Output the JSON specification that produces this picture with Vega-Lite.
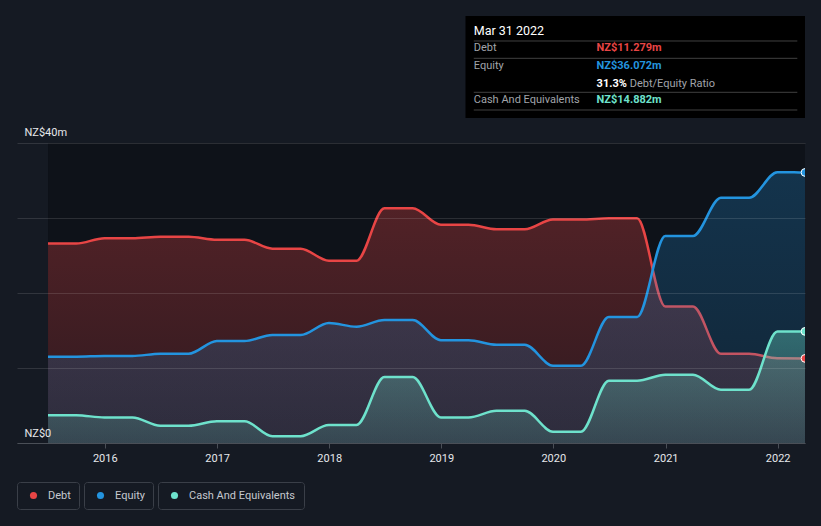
{
  "$schema": "https://vega.github.io/schema/vega-lite/v6.json",
  "width": 788,
  "height": 427,
  "autosize": {"type": "none"},
  "padding": {"left": 17, "top": 16, "right": 16, "bottom": 83},
  "background": "#151a23",
  "config": {
    "view": {"stroke": null},
    "font": "Roboto",
    "axisX": {"grid": false, "domainColor": "#4a4f57", "tickColor": "#4a4f57", "tickSize": 5, "labelColor": "#e6e8eb", "labelFontSize": 11, "labelPadding": 4},
    "axisY": {"grid": true, "gridColor": "#ffffff", "gridOpacity": 0.12, "domain": false, "ticks": false, "tickSize": 0, "labelAlign": "left", "labelBaseline": "alphabetic", "labelPadding": -7, "labelOffset": -7, "labelColor": "#e6e8eb", "labelFontSize": 11},
    "legend": {
      "orient": "none",
      "direction": "horizontal",
      "strokeColor": "#3a3f48",
      "fillColor": "#151a23",
      "padding": 8,
      "cornerRadius": 3,
      "symbolType": "circle",
      "symbolSize": 50,
      "symbolOffset": 3,
      "symbolStrokeWidth": 0,
      "labelOffset": 9,
      "labelColor": "#c5c9cf",
      "labelFontSize": 11,
      "labelFont": "Roboto"
    }
  },
  "datasets": {
    "main": [
      {"date": "2015-06-30", "debt": 26.6, "equity": 11.5, "cash": 3.7},
      {"date": "2015-09-30", "debt": 26.6, "equity": 11.5, "cash": 3.7},
      {"date": "2015-12-31", "debt": 27.3, "equity": 11.6, "cash": 3.4},
      {"date": "2016-03-31", "debt": 27.3, "equity": 11.6, "cash": 3.4},
      {"date": "2016-06-30", "debt": 27.5, "equity": 11.9, "cash": 2.3},
      {"date": "2016-09-30", "debt": 27.5, "equity": 11.9, "cash": 2.3},
      {"date": "2016-12-31", "debt": 27.1, "equity": 13.6, "cash": 2.9},
      {"date": "2017-03-31", "debt": 27.1, "equity": 13.6, "cash": 2.9},
      {"date": "2017-06-30", "debt": 25.9, "equity": 14.4, "cash": 0.9},
      {"date": "2017-09-30", "debt": 25.9, "equity": 14.4, "cash": 0.9},
      {"date": "2017-12-31", "debt": 24.3, "equity": 16.0, "cash": 2.4},
      {"date": "2018-03-31", "debt": 24.3, "equity": 15.5, "cash": 2.4},
      {"date": "2018-06-30", "debt": 31.3, "equity": 16.4, "cash": 8.8},
      {"date": "2018-09-30", "debt": 31.3, "equity": 16.4, "cash": 8.8},
      {"date": "2018-12-31", "debt": 29.1, "equity": 13.7, "cash": 3.4},
      {"date": "2019-03-31", "debt": 29.1, "equity": 13.7, "cash": 3.4},
      {"date": "2019-06-30", "debt": 28.5, "equity": 13.1, "cash": 4.3},
      {"date": "2019-09-30", "debt": 28.5, "equity": 13.1, "cash": 4.3},
      {"date": "2019-12-31", "debt": 29.8, "equity": 10.3, "cash": 1.5},
      {"date": "2020-03-31", "debt": 29.8, "equity": 10.3, "cash": 1.5},
      {"date": "2020-06-30", "debt": 29.95, "equity": 16.8, "cash": 8.3},
      {"date": "2020-09-30", "debt": 29.95, "equity": 16.8, "cash": 8.3},
      {"date": "2020-12-31", "debt": 18.2, "equity": 27.6, "cash": 9.1},
      {"date": "2021-03-31", "debt": 18.2, "equity": 27.6, "cash": 9.1},
      {"date": "2021-06-30", "debt": 11.9, "equity": 32.7, "cash": 7.1},
      {"date": "2021-09-30", "debt": 11.9, "equity": 32.7, "cash": 7.1},
      {"date": "2021-12-31", "debt": 11.3, "equity": 36.1, "cash": 14.85},
      {"date": "2022-03-31", "debt": 11.279, "equity": 36.072, "cash": 14.882}
    ]
  },
  "layer": [
    {
      "data": {"name": "main"},
      "mark": {"type": "area", "fill": "#0e1219"},
      "encoding": {
        "x": {"field": "date", "type": "temporal", "title": null,
          "scale": {"domain": [{"year": 2015, "month": 3, "date": 21, "utc": true}, {"year": 2022, "month": 3, "date": 31, "utc": true}]},
          "axis": {"format": "%Y", "tickCount": {"interval": "year", "step": 1}, "title": null, "zindex": 1}},
        "y": {"datum": 40, "type": "quantitative", "title": null,
          "scale": {"domain": [0, 56.933], "nice": false, "zero": false},
          "axis": {"values": [0, 10, 20, 30, 40], "labelExpr": "datum.value == 40 ? 'NZ$40m' : datum.value == 0 ? 'NZ$0' : ''", "title": null, "zindex": 1, "gridZindex": 1}},
        "y2": {"datum": 0}
      }
    },
    {
      "data": {"name": "main"},
      "mark": {"type": "area", "interpolate": "monotone", "fill": {"gradient": "linear", "x1": 0, "y1": 0, "x2": 0, "y2": 1, "stops": [{"offset": 0, "color": "rgba(232,69,69,0.31)"}, {"offset": 1, "color": "rgba(232,69,69,0.15)"}]}},
      "encoding": {
        "x": {"field": "date", "type": "temporal", "title": null},
        "y": {"field": "debt", "type": "quantitative", "title": null}
      }
    },
    {
      "data": {"name": "main"},
      "mark": {"type": "line", "interpolate": "monotone", "stroke": "#e84545", "strokeWidth": 2.5},
      "encoding": {
        "x": {"field": "date", "type": "temporal", "title": null},
        "y": {"field": "debt", "type": "quantitative", "title": null}
      }
    },
    {
      "data": {"name": "main"},
      "mark": {"type": "area", "interpolate": "monotone", "fill": {"gradient": "linear", "x1": 0, "y1": 0, "x2": 0, "y2": 1, "stops": [{"offset": 0, "color": "rgba(35,148,223,0.26)"}, {"offset": 1, "color": "rgba(35,148,223,0.15)"}]}},
      "encoding": {
        "x": {"field": "date", "type": "temporal", "title": null},
        "y": {"field": "equity", "type": "quantitative", "title": null}
      }
    },
    {
      "data": {"name": "main"},
      "mark": {"type": "line", "interpolate": "monotone", "stroke": "#2394df", "strokeWidth": 2.5},
      "encoding": {
        "x": {"field": "date", "type": "temporal", "title": null},
        "y": {"field": "equity", "type": "quantitative", "title": null}
      }
    },
    {
      "data": {"name": "main"},
      "mark": {"type": "area", "interpolate": "monotone", "fill": {"gradient": "linear", "x1": 0, "y1": 0, "x2": 0, "y2": 1, "stops": [{"offset": 0, "color": "rgba(110,226,204,0.35)"}, {"offset": 1, "color": "rgba(110,226,204,0.15)"}]}},
      "encoding": {
        "x": {"field": "date", "type": "temporal", "title": null},
        "y": {"field": "cash", "type": "quantitative", "title": null}
      }
    },
    {
      "data": {"name": "main"},
      "mark": {"type": "line", "interpolate": "monotone", "stroke": "#6ee2cc", "strokeWidth": 2.5},
      "encoding": {
        "x": {"field": "date", "type": "temporal", "title": null},
        "y": {"field": "cash", "type": "quantitative", "title": null}
      }
    },
    {
      "data": {"name": "main"},
      "transform": [{"filter": "time(datum.date) == time('2022-03-31')"}],
      "mark": {"type": "point", "filled": true, "size": 60, "stroke": "#ffffff", "strokeWidth": 1, "opacity": 1, "clip": true},
      "encoding": {
        "x": {"field": "date", "type": "temporal", "title": null},
        "y": {"field": "debt", "type": "quantitative", "title": null},
        "color": {"datum": "Debt", "scale": {"domain": ["Debt"], "range": ["#e84545"]}, "legend": {"title": null, "legendX": 0, "legendY": 466}}
      }
    },
    {
      "data": {"name": "main"},
      "transform": [{"filter": "time(datum.date) == time('2022-03-31')"}],
      "mark": {"type": "point", "filled": true, "size": 60, "stroke": "#ffffff", "strokeWidth": 1, "opacity": 1, "clip": true},
      "encoding": {
        "x": {"field": "date", "type": "temporal", "title": null},
        "y": {"field": "equity", "type": "quantitative", "title": null},
        "color": {"datum": "Equity", "scale": {"domain": ["Equity"], "range": ["#2394df"]}, "legend": {"title": null, "legendX": 67, "legendY": 466}}
      }
    },
    {
      "data": {"name": "main"},
      "transform": [{"filter": "time(datum.date) == time('2022-03-31')"}],
      "mark": {"type": "point", "filled": true, "size": 60, "stroke": "#ffffff", "strokeWidth": 1, "opacity": 1, "clip": true},
      "encoding": {
        "x": {"field": "date", "type": "temporal", "title": null},
        "y": {"field": "cash", "type": "quantitative", "title": null},
        "color": {"datum": "Cash And Equivalents", "scale": {"domain": ["Cash And Equivalents"], "range": ["#6ee2cc"]}, "legend": {"title": null, "legendX": 141, "legendY": 466}}
      }
    },
    {
      "data": {"values": [{}]},
      "mark": {"type": "rect", "fill": "#000000"},
      "encoding": {
        "x": {"datum": {"year": 2019, "month": 3, "date": 21, "utc": true}, "type": "temporal", "title": null},
        "x2": {"datum": {"year": 2022, "month": 3, "date": 31, "utc": true}},
        "y": {"datum": 56.933, "type": "quantitative", "title": null},
        "y2": {"datum": 43.33}
      }
    },
    {
      "data": {"values": [{"y": 53.6}, {"y": 51.29}, {"y": 46.76}, {"y": 44.4}]},
      "mark": {"type": "rule", "stroke": "#404040", "strokeWidth": 1},
      "encoding": {
        "x": {"datum": {"year": 2019, "month": 4, "date": 17, "utc": true}, "type": "temporal", "title": null},
        "x2": {"datum": {"year": 2022, "month": 3, "date": 6, "utc": true}},
        "y": {"field": "y", "type": "quantitative", "title": null}
      }
    },
    {
      "data": {"values": [{"t": "Mar 31 2022", "y": 54.93}]},
      "mark": {"type": "text", "align": "left", "baseline": "middle", "fontSize": 12.5, "color": "#ffffff"},
      "encoding": {
        "x": {"datum": {"year": 2019, "month": 4, "date": 17, "utc": true}, "type": "temporal", "title": null},
        "y": {"field": "y", "type": "quantitative", "title": null},
        "text": {"field": "t"}
      }
    },
    {
      "data": {"values": [{"t": "Debt", "y": 52.6}, {"t": "Equity", "y": 50.2}, {"t": "Cash And Equivalents", "y": 45.73}]},
      "mark": {"type": "text", "align": "left", "baseline": "middle", "fontSize": 11, "color": "#a0a4aa"},
      "encoding": {
        "x": {"datum": {"year": 2019, "month": 4, "date": 17, "utc": true}, "type": "temporal", "title": null},
        "y": {"field": "y", "type": "quantitative", "title": null},
        "text": {"field": "t"}
      }
    },
    {
      "data": {"values": [{"t": "NZ$11.279m", "y": 52.6, "s": "Debt"}, {"t": "NZ$36.072m", "y": 50.2, "s": "Equity"}, {"t": "31.3%", "y": 47.93, "s": "Ratio"}, {"t": "NZ$14.882m", "y": 45.73, "s": "Cash"}]},
      "mark": {"type": "text", "align": "left", "baseline": "middle", "fontSize": 11, "fontWeight": "bold"},
      "encoding": {
        "x": {"datum": {"year": 2020, "month": 5, "date": 21, "utc": true}, "type": "temporal", "title": null},
        "y": {"field": "y", "type": "quantitative", "title": null},
        "text": {"field": "t"},
        "color": {"field": "s", "type": "nominal", "scale": {"domain": ["Debt", "Equity", "Ratio", "Cash"], "range": ["#e84545", "#2394df", "#ffffff", "#6ee2cc"]}, "legend": null}
      }
    },
    {
      "data": {"values": [{"t": "Debt/Equity Ratio", "y": 47.93}]},
      "mark": {"type": "text", "align": "left", "baseline": "middle", "fontSize": 11, "color": "#a0a4aa"},
      "encoding": {
        "x": {"datum": {"year": 2020, "month": 9, "date": 6, "utc": true}, "type": "temporal", "title": null},
        "y": {"field": "y", "type": "quantitative", "title": null},
        "text": {"field": "t"}
      }
    }
  ],
  "resolve": {"scale": {"color": "independent"}}
}
